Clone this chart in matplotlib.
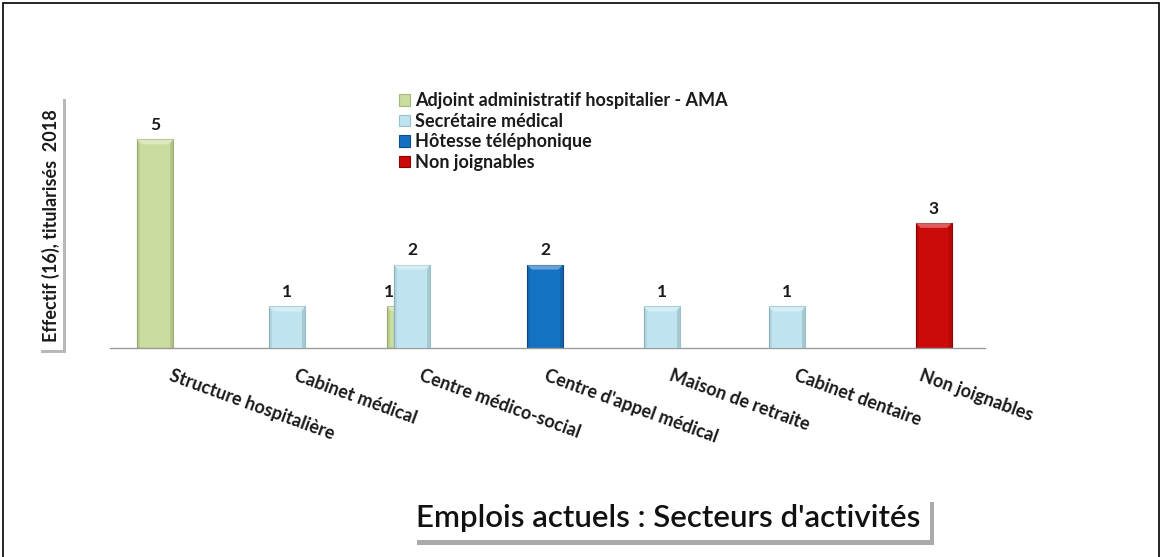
import matplotlib
matplotlib.use("Agg")
import matplotlib.pyplot as plt
from matplotlib.patches import Rectangle, Polygon
import numpy as np

categories = ["Structure hospitalière", "Cabinet médical", "Centre médico-social",
              "Centre d'appel médical", "Maison de retraite", "Cabinet dentaire",
              "Non joignables"]
series_names = ["Adjoint administratif hospitalier - AMA", "Secrétaire médical",
                "Hôtesse téléphonique", "Non joignables"]
adjoint = [5, 0, 1, 0, 0, 0, 0]
secretaire = [0, 1, 2, 0, 1, 1, 0]
hotesse = [0, 0, 0, 2, 0, 0, 0]
non_joignables = [0, 0, 0, 0, 0, 0, 3]
ylabel = "Effectif (16), titularisés  2018"
title = "Emplois actuels : Secteurs d'activités"

colors = ["#CADD9F", "#C0E4EF", "#1572C2", "#CC0A0A"]
edges = ["#A3B874", "#94C3CF", "#0B4E8C", "#8E0000"]
offsets = [-0.14, -0.085, -0.02, 0.09]
width = 0.29

FONT = ["Lato", "DejaVu Sans"]
plt.rcParams['font.family'] = FONT

fig = plt.figure(figsize=(11.62, 5.57), dpi=100)
ax = fig.add_axes([0.0947, 0.375, 0.753, 0.450])

x = np.arange(len(categories))
data = [adjoint, secretaire, hotesse, non_joignables]
handles = []
dx, dy = 0.04, 0.12  # bevel depth in data units
for i, vals in enumerate(data):
    vals = np.array(vals, dtype=float)
    masked = np.where(vals > 0, vals, np.nan)
    z = 3 if i == 1 else 2
    bars = ax.bar(x + 0.5 + offsets[i], masked, width=width, color=colors[i],
                  edgecolor=edges[i], linewidth=0.8, zorder=z, label=series_names[i])
    handles.append(bars)
    for k, (b, v) in enumerate(zip(bars, vals)):
        if v > 0:
            bx, bw, bh = b.get_x(), b.get_width(), b.get_height()
            top = Polygon([[bx, bh], [bx + bw, bh], [bx + bw - dx, bh - dy], [bx + dx, bh - dy]],
                          closed=True, facecolor="white", alpha=0.35, edgecolor="none", zorder=z + 0.1)
            ax.add_patch(top)
            left = Polygon([[bx, bh], [bx + dx * 0.6, bh - dy], [bx + dx * 0.6, 0], [bx, 0]],
                           closed=True, facecolor="black", alpha=0.08, edgecolor="none", zorder=z + 0.1)
            right = Polygon([[bx + bw, bh], [bx + bw - dx * 0.6, bh - dy], [bx + bw - dx * 0.6, 0], [bx + bw, 0]],
                            closed=True, facecolor="black", alpha=0.12, edgecolor="none", zorder=z + 0.1)
            ax.add_patch(left)
            ax.add_patch(right)
            lx = bx + bw / 2
            if i == 0 and secretaire[k] > 0:
                lx = bx + 0.02
            ax.text(lx, bh + 0.15, f"{int(v)}", ha="center", va="bottom",
                    fontsize=12.5, fontweight="bold", color="#1a1a1a", zorder=10)

ax.set_xlim(0, len(categories))
ax.set_ylim(0, 6)
for s in ["top", "right", "left"]:
    ax.spines[s].set_visible(False)
ax.spines["bottom"].set_color("#9a9a9a")
ax.spines["bottom"].set_linewidth(1.0)
ax.set_yticks([])
ax.set_xticks(x + 0.5)
ax.set_xticklabels([])
ax.tick_params(axis="x", length=0)
for xi, cat in zip(x, categories):
    ax.text(xi + 0.5, -0.45, cat, rotation=-20, rotation_mode="anchor",
            ha="left", va="top", fontsize=13, fontweight="bold", color="#1a1a1a")

leg = ax.legend(handles=handles, loc="upper left", bbox_to_anchor=(0.322, 1.05),
                frameon=False, fontsize=13, handlelength=0.6, handleheight=0.6,
                handletextpad=0.3, labelspacing=0.2, borderaxespad=0)
for t in leg.get_texts():
    t.set_fontweight("bold")
    t.set_color("#1a1a1a")

# y label box with shadow
fig.patches.append(Rectangle((0.0353, 0.366), 0.0215, 0.457, transform=fig.transFigure,
                             facecolor="#b8b8b8", edgecolor="none", zorder=0))
fig.patches.append(Rectangle((0.0327, 0.372), 0.0215, 0.457, transform=fig.transFigure,
                             facecolor="white", edgecolor="none", zorder=1))
fig.text(0.0435, 0.595, ylabel, rotation=90, ha="center", va="center",
         fontsize=13, fontweight="bold", color="#1a1a1a")

# title box with shadow
fig.patches.append(Rectangle((0.359, 0.022), 0.445, 0.077, transform=fig.transFigure,
                             facecolor="#aaaaaa", edgecolor="none", zorder=0))
fig.patches.append(Rectangle((0.3554, 0.0305), 0.445, 0.077, transform=fig.transFigure,
                             facecolor="white", edgecolor="none", zorder=1))
fig.text(0.575, 0.070, title, ha="center", va="center", fontsize=22.5,
         fontweight="semibold", color="#111111")

# outer frame
fig.patches.append(Rectangle((0.003, -0.05), 0.994, 1.045, transform=fig.transFigure,
                             facecolor="none", edgecolor="black", linewidth=1.2, zorder=5))

fig.savefig("out.png", dpi=100)
